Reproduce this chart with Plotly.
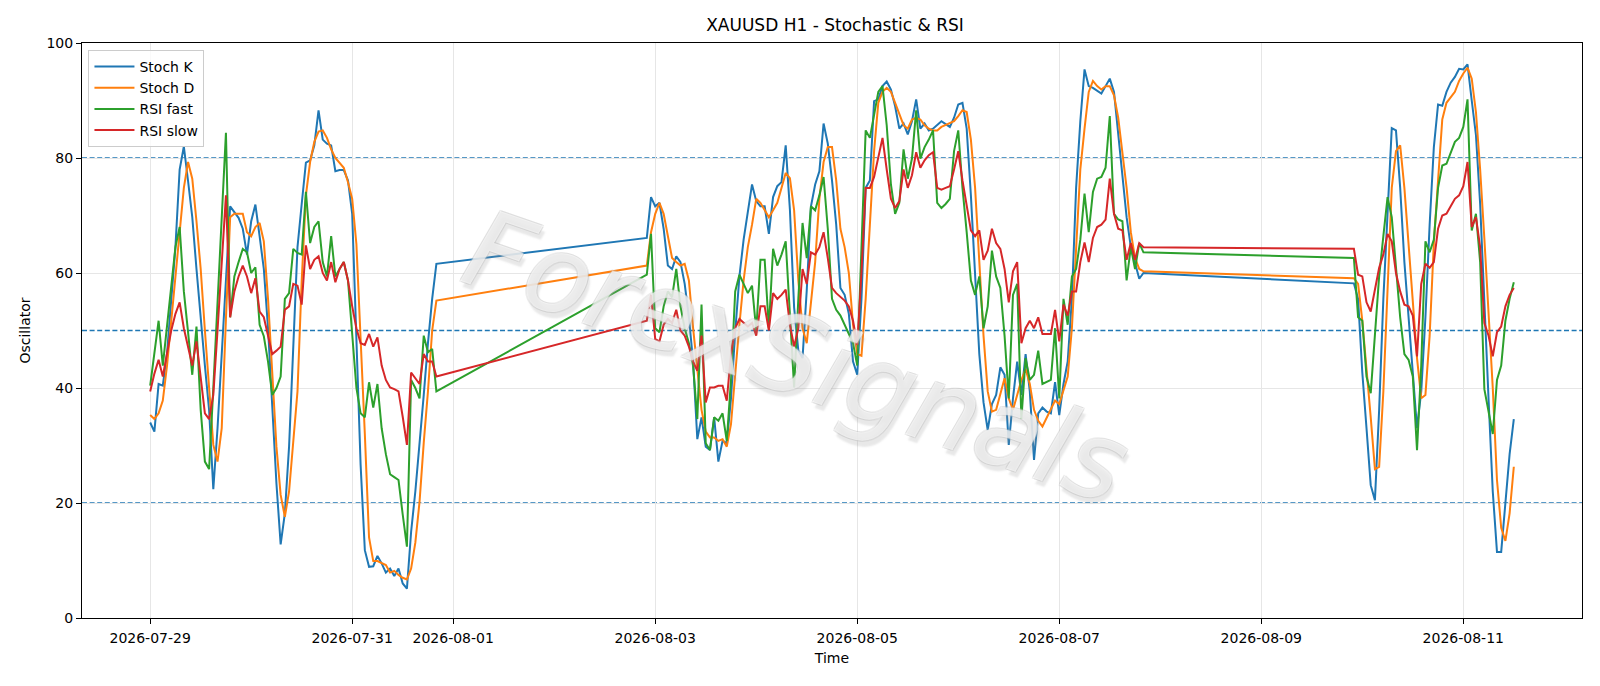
import pandas as pd
import plotly.graph_objects as go

# Hourly bars, three trading blocks separated by weekend gaps
seg_starts = ["2026-07-29 00:00", "2026-08-02 22:00", "2026-08-09 22:00"]

stoch_k_seg1 = [34.0, 32.4, 40.7, 40.4, 46.0, 55.0, 64.5, 78.0, 82.0, 76.0,
                69.7, 60.7, 51.7, 43.9, 36.2, 22.4, 33.0, 46.0, 60.0, 71.6,
                70.6, 69.6, 67.7, 63.2, 69.0, 71.9, 66.4, 60.7, 50.4, 36.2,
                23.4, 12.8, 18.2, 29.8, 45.9, 64.5, 72.0, 79.2, 79.6, 82.2,
                88.3, 83.2, 82.5, 82.2, 77.7, 77.9, 77.9, 76.1, 70.3, 49.0,
                26.6, 11.8, 8.9, 9.0, 10.8, 9.5, 7.9, 8.6, 7.3, 8.6,
                6.0, 5.1, 15.0, 22.0, 29.8, 38.8, 47.8, 55.5, 61.6]
stoch_k_seg2 = [66.1, 73.2, 71.6, 72.2, 67.7, 61.3, 60.7, 62.9, 61.9, 58.1,
                52.3, 44.6, 31.1, 34.9, 29.8, 29.2, 34.9, 27.2, 30.8, 30.4,
                38.2, 49.7, 59.4, 65.8, 70.3, 75.4, 72.5, 71.6, 71.6, 66.8,
                73.2, 75.1, 75.8, 82.2, 71.0, 54.0, 46.5, 45.2, 57.0, 71.6,
                75.4, 77.7, 86.0, 82.5, 76.1, 68.4, 57.4, 56.2, 52.9, 44.6,
                42.3, 55.5, 74.8, 76.1, 89.9, 90.2, 92.5, 93.3, 91.9, 89.0,
                85.1, 86.0, 84.1, 86.4, 90.2, 85.1, 86.0, 84.8, 85.1, 85.7,
                86.4, 85.9, 85.4, 87.0, 89.3, 89.6, 85.1, 73.5, 59.4, 45.9,
                37.5, 32.7, 37.2, 38.8, 43.6, 42.3, 30.1, 38.2, 44.6, 38.8,
                45.9, 39.4, 27.5, 35.6, 36.6, 35.9, 35.6, 41.0, 35.3, 40.7,
                44.6, 55.5, 74.8, 86.4, 95.4, 92.5, 92.2, 91.7, 91.2, 92.5,
                93.8, 91.5, 84.4, 78.0, 69.7, 64.5, 61.9, 59.0, 60.0]
stoch_k_seg3 = [58.2, 55.5, 42.7, 33.0, 23.1, 20.5, 36.2, 55.5, 71.6, 85.2,
                84.8, 74.8, 61.9, 52.3, 43.9, 33.0, 39.4, 52.3, 68.4, 81.9,
                89.3, 89.1, 91.5, 93.1, 94.1, 95.5, 95.4, 96.3, 90.0, 84.0,
                72.0, 54.0, 38.0, 22.0, 11.5, 11.5, 20.2, 28.5, 34.6]

stoch_d_seg1 = [35.3, 34.6, 35.6, 37.8, 43.9, 51.7, 60.0, 68.0, 74.8, 79.3,
                76.4, 69.0, 60.7, 50.0, 40.0, 30.1, 27.2, 33.0, 52.0, 69.7,
                70.3, 70.3, 70.3, 67.1, 66.4, 68.0, 68.7, 65.5, 55.5, 42.7,
                29.8, 21.4, 17.6, 22.0, 30.0, 39.4, 58.7, 73.5, 79.3, 82.8,
                84.6, 84.8, 83.5, 81.5, 80.0, 79.2, 78.3, 75.8, 72.9, 65.0,
                49.1, 32.0, 14.0, 9.9, 9.9, 9.5, 9.2, 7.9, 8.2, 7.5,
                7.0, 6.7, 8.6, 13.1, 20.2, 30.5, 39.4, 50.0, 55.2]
stoch_d_seg2 = [61.3, 67.1, 70.3, 72.2, 70.3, 66.4, 62.6, 61.9, 61.3, 61.6,
                58.7, 50.4, 42.7, 36.2, 32.4, 31.4, 31.4, 30.8, 31.1, 29.8,
                33.7, 42.7, 51.0, 58.7, 64.5, 68.4, 72.9, 72.2, 70.9, 69.7,
                70.9, 72.2, 74.8, 77.4, 76.5, 70.9, 58.7, 50.4, 47.8, 55.5,
                61.9, 72.9, 79.3, 81.9, 81.9, 76.1, 67.7, 64.5, 60.0, 51.0,
                45.9, 45.6, 55.5, 68.4, 81.2, 89.6, 91.5, 92.2, 91.5, 89.6,
                87.6, 85.7, 85.1, 86.7, 87.0, 86.7, 85.7, 85.1, 84.8, 84.8,
                85.4, 85.7, 86.0, 86.4, 87.3, 88.3, 88.0, 83.2, 74.8, 61.9,
                49.1, 39.4, 35.9, 36.2, 38.8, 41.7, 38.2, 36.2, 38.8, 41.4,
                43.3, 40.7, 36.2, 34.3, 33.3, 34.9, 36.2, 37.8, 37.2, 39.4,
                42.0, 50.4, 65.2, 78.0, 85.1, 91.5, 93.4, 92.5, 91.9, 92.5,
                92.5, 90.9, 87.0, 81.2, 74.8, 67.1, 62.6, 60.7, 60.3]
stoch_d_seg3 = [59.1, 58.1, 51.7, 43.9, 34.9, 25.9, 26.3, 39.4, 58.7, 74.8,
                81.2, 82.2, 74.8, 65.2, 55.5, 45.2, 38.2, 38.8, 49.1, 65.2,
                76.1, 86.7, 89.6, 90.6, 91.5, 93.4, 94.7, 95.7, 93.8, 88.0,
                78.0, 66.0, 54.0, 40.0, 24.0, 15.7, 13.4, 18.2, 26.3]

rsi_fast_seg1 = [40.4, 45.9, 51.7, 43.9, 50.4, 58.0, 64.5, 68.0, 56.8, 49.7,
                 42.3, 50.7, 36.2, 27.2, 25.9, 40.0, 55.0, 70.0, 84.4, 52.3,
                 59.4, 61.9, 64.2, 63.6, 60.0, 61.0, 51.0, 49.0, 44.6, 38.8,
                 40.0, 42.0, 55.5, 56.5, 64.2, 63.5, 63.2, 74.1, 65.2, 68.0,
                 69.0, 61.9, 59.4, 66.4, 59.4, 60.7, 61.9, 58.7, 49.7, 40.0,
                 35.6, 34.9, 41.0, 36.6, 40.7, 33.0, 28.5, 25.0, 24.5, 24.0,
                 18.0, 12.4, 41.4, 40.0, 38.2, 49.1, 46.2, 46.8, 39.4]
rsi_fast_seg2 = [59.7, 66.8, 50.4, 49.7, 54.2, 56.8, 55.8, 60.7, 54.2, 50.4,
                 47.8, 43.9, 34.6, 54.5, 30.4, 29.2, 34.9, 34.3, 35.6, 30.8,
                 41.4, 56.8, 59.7, 58.1, 56.5, 57.8, 50.0, 62.3, 62.3, 50.4,
                 64.2, 61.3, 63.2, 65.5, 51.7, 40.1, 55.5, 68.7, 62.6, 71.6,
                 70.9, 73.5, 76.7, 67.7, 55.5, 53.6, 52.6, 51.0, 49.7, 47.8,
                 43.9, 65.2, 84.8, 83.5, 87.6, 91.5, 92.5, 85.7, 75.4, 70.3,
                 72.2, 81.5, 76.4, 79.9, 88.3, 79.9, 81.9, 83.2, 84.8, 72.2,
                 71.3, 72.0, 72.9, 81.2, 84.8, 74.8, 67.1, 58.7, 56.2, 59.4,
                 50.4, 54.2, 63.9, 59.4, 57.4, 49.1, 38.2, 56.2, 58.1, 34.6,
                 45.2, 41.4, 42.3, 46.5, 40.7, 41.0, 41.4, 50.4, 38.2, 55.5,
                 51.0, 59.4, 60.7, 65.8, 73.8, 67.1, 74.1, 76.4, 76.7, 78.3,
                 87.3, 70.3, 69.3, 69.0, 58.7, 64.5, 60.7, 65.2, 63.6]
rsi_fast_seg3 = [62.6, 52.3, 51.7, 42.0, 39.1, 49.1, 59.4, 66.4, 73.2, 69.7,
                 60.7, 52.3, 45.9, 44.9, 42.0, 29.2, 43.9, 65.5, 63.6, 65.8,
                 74.8, 78.7, 79.0, 80.9, 82.8, 83.5, 85.4, 90.2, 67.4, 70.3,
                 61.9, 39.8, 36.2, 32.0, 41.4, 43.9, 51.7, 55.5, 58.4]

rsi_slow_seg1 = [39.4, 42.5, 44.9, 42.0, 46.0, 50.0, 52.9, 54.9, 50.4, 47.2,
                 43.9, 48.1, 42.0, 35.6, 34.6, 38.8, 50.0, 62.0, 73.5, 52.3,
                 56.8, 59.4, 61.3, 59.4, 56.5, 59.1, 53.3, 52.3, 49.1, 45.9,
                 46.5, 47.2, 53.6, 54.2, 58.1, 57.8, 54.5, 64.8, 60.7, 62.3,
                 62.9, 60.0, 58.7, 61.9, 58.4, 60.7, 61.9, 58.7, 54.2, 50.4,
                 47.8, 47.5, 49.4, 47.2, 48.8, 43.9, 41.4, 40.1, 39.8, 39.4,
                 35.0, 30.1, 42.7, 41.7, 40.7, 45.9, 44.6, 44.6, 42.0]
rsi_slow_seg2 = [51.7, 56.2, 48.5, 48.1, 51.0, 52.0, 51.3, 53.6, 50.0, 49.1,
                 47.2, 44.6, 43.0, 49.1, 37.5, 40.1, 40.1, 40.4, 40.4, 37.8,
                 45.9, 50.4, 52.0, 51.3, 50.7, 51.3, 49.1, 54.2, 54.2, 50.0,
                 56.5, 55.5, 56.2, 57.1, 51.0, 47.2, 50.4, 60.7, 58.1, 63.6,
                 63.2, 64.5, 67.1, 62.6, 57.4, 56.5, 55.8, 55.2, 54.2, 51.7,
                 47.5, 60.0, 74.8, 74.8, 76.7, 80.0, 83.5, 78.0, 72.9, 71.3,
                 72.5, 78.0, 74.8, 77.0, 81.0, 78.3, 79.6, 80.5, 81.0, 74.8,
                 74.5, 74.8, 75.1, 78.0, 81.2, 76.1, 71.6, 67.4, 66.4, 67.4,
                 62.3, 63.9, 67.7, 65.2, 64.2, 60.7, 54.9, 60.3, 61.9, 47.8,
                 50.4, 51.7, 50.4, 52.3, 49.4, 49.4, 49.4, 53.6, 48.1, 54.5,
                 52.6, 56.8, 56.8, 61.9, 65.3, 61.9, 66.1, 68.0, 68.4, 69.3,
                 76.4, 70.3, 67.7, 67.4, 62.3, 65.2, 62.3, 65.2, 64.5]
rsi_slow_seg3 = [64.2, 59.7, 59.4, 54.9, 53.3, 56.8, 60.9, 63.2, 66.8, 65.5,
                 60.0, 56.8, 54.5, 54.2, 52.6, 45.5, 58.1, 61.6, 60.9, 61.9,
                 67.7, 70.0, 70.3, 71.6, 72.9, 73.5, 75.1, 79.3, 68.0, 69.7,
                 64.5, 51.3, 49.1, 45.5, 49.7, 50.7, 54.2, 56.2, 57.4]

series_names = ["Stoch K", "Stoch D", "RSI fast", "RSI slow"]
series_colors = ["#1f77b4", "#ff7f0e", "#2ca02c", "#d62728"]
series_segments = [
    [stoch_k_seg1, stoch_k_seg2, stoch_k_seg3],
    [stoch_d_seg1, stoch_d_seg2, stoch_d_seg3],
    [rsi_fast_seg1, rsi_fast_seg2, rsi_fast_seg3],
    [rsi_slow_seg1, rsi_slow_seg2, rsi_slow_seg3],
]
x_tick_dates = ["2026-07-29", "2026-07-31", "2026-08-01", "2026-08-03",
                "2026-08-05", "2026-08-07", "2026-08-09", "2026-08-11"]
y_ticks = [0, 20, 40, 60, 80, 100]
levels = [20, 50, 80]


def build(segs):
    xs, ys = [], []
    for start, vals in zip(seg_starts, segs):
        t = pd.date_range(start, periods=len(vals), freq="h")
        xs.extend(list(t))
        ys.extend(vals)
    return xs, ys


FONT = "DejaVu Sans, Verdana, sans-serif"
# The page body has a default 8px margin: the figure is sized to fit the window.
FIG_W, FIG_H = 1592, 678

fig = go.Figure()
all_x = []
for name, color, segs in zip(series_names, series_colors, series_segments):
    xs, ys = build(segs)
    all_x.extend(xs)
    fig.add_trace(go.Scatter(x=xs, y=ys, mode="lines", name=name,
                             line=dict(color=color, width=2)))

tmin, tmax = min(all_x), max(all_x)
pad = (tmax - tmin) * 0.05
x_range = [tmin - pad, tmax + pad]

for lv in levels:
    fig.add_shape(type="line", xref="paper", x0=0, x1=1, yref="y", y0=lv, y1=lv,
                  line=dict(color="#1f77b4", width=1.4, dash="5px,2.6px"),
                  layer="below")

fig.add_annotation(
    text="ForexSignals", xref="paper", yref="paper", x=0.476, y=0.455,
    xanchor="center", yanchor="middle", showarrow=False, textangle=19,
    font=dict(family=FONT, size=108, style="italic",
              color="rgba(255,255,255,0.62)",
              shadow="-1px -1px 0 rgba(185,185,185,0.45), 1px -1px 0 rgba(185,185,185,0.45), "
                     "-1px 1px 0 rgba(185,185,185,0.45), 1px 1px 0 rgba(185,185,185,0.45), "
                     "4px 5px 2px rgba(150,150,150,0.35)"),
)

axis_common = dict(showgrid=True, gridcolor="#e6e6e6", gridwidth=1,
                   showline=True, mirror=True, linecolor="black", linewidth=1.1,
                   ticks="outside", ticklen=5, tickwidth=1.1, tickcolor="black",
                   tickfont=dict(family=FONT, size=14, color="black"),
                   zeroline=False)

fig.update_layout(
    width=FIG_W, height=FIG_H,
    paper_bgcolor="white", plot_bgcolor="white",
    margin=dict(l=74, r=18, t=35, b=68, autoexpand=False),
    font=dict(family=FONT, size=14, color="black"),
    title=dict(text="XAUUSD H1 - Stochastic & RSI", x=0.5195, xanchor="center",
               y=1 - 17.5 / FIG_H, yanchor="middle",
               font=dict(family=FONT, size=17, color="black")),
    xaxis=dict(type="date", range=x_range, tickvals=x_tick_dates,
               ticktext=x_tick_dates, ticklabelstandoff=2,
               title=dict(text="Time", standoff=8,
                          font=dict(family=FONT, size=14, color="black")),
               **axis_common),
    yaxis=dict(range=[0, 100], tickvals=y_ticks,
               title=dict(text="Oscillator", standoff=12,
                          font=dict(family=FONT, size=14, color="black")),
               **axis_common),
    legend=dict(x=0.0043, y=0.988, xanchor="left", yanchor="top",
                bgcolor="rgba(255,255,255,0.8)", bordercolor="#cccccc",
                borderwidth=1, font=dict(family=FONT, size=14, color="black"),
                itemwidth=40, tracegroupgap=3, traceorder="normal"),
    showlegend=True,
)

fig.write_html("out.html")
